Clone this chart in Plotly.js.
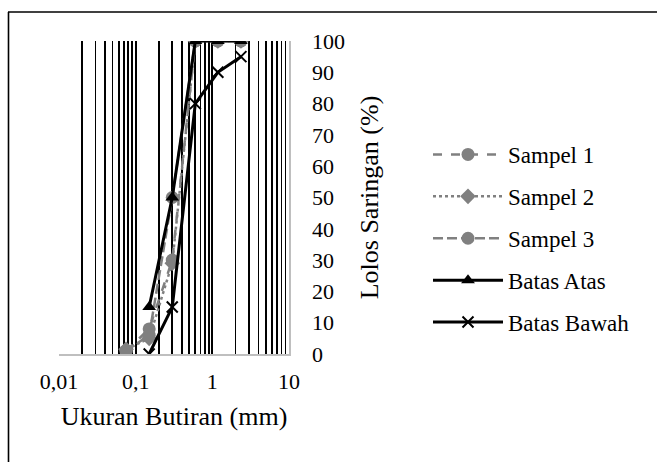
<!DOCTYPE html>
<html>
<head>
<meta charset="utf-8">
<script src="https://cdn.plot.ly/plotly-3.0.1.min.js"></script>
<style>html,body{margin:0;padding:0;background:#fff;}#chart{width:657px;height:462px;}</style>
</head>
<body>
<div id="chart"></div>
<script>
// Sieve sizes (mm)
var sieveSizes = [0.075, 0.15, 0.3, 0.6, 1.18, 2.36];
var limitSizes = [0.15, 0.3, 0.6, 1.18, 2.36];
// Passing percentages
var sampel1 = [1, 8, 30, 100, 100, 100];
var sampel2 = [1.5, 5, 29, 100, 100, 100];
var sampel3 = [1, 6, 50, 100, 100, 100];
var batasAtas = [15, 50, 100, 100, 100];
var batasBawah = [0, 15, 80, 90, 95];
// Axis ticks
var xTickVals = [];
var decades = [0.01, 0.1, 1];
decades.forEach(function(d){ for (var k = 1; k <= 9; k++) xTickVals.push(+(d*k).toPrecision(3)); });
xTickVals.push(10);
var xLabelMap = {0.01: '0,01', 0.1: '0,1', 1: '1', 10: '10'};
var xTickText = xTickVals.map(function(v){ return xLabelMap[v] !== undefined ? xLabelMap[v] : ''; });
var yTickVals = [0,10,20,30,40,50,60,70,80,90,100];

var gray = '#808080';
var FONT = '"Liberation Serif", "Times New Roman", serif';

var traces = [
  {x: sieveSizes, y: sampel1, name: 'Sampel 1', mode: 'lines+markers', legendgroup: 'a',
   line: {color: gray, width: 2.5, dash: '9px,9px'}, marker: {symbol: 'circle', size: 13, color: gray}},
  {x: sieveSizes, y: sampel2, name: 'Sampel 2', mode: 'lines+markers', legendgroup: 'b',
   line: {color: gray, width: 2.5, dash: 'dot'}, marker: {symbol: 'diamond', size: 12, color: gray}},
  {x: sieveSizes, y: sampel3, name: 'Sampel 3', mode: 'lines+markers', legendgroup: 'c',
   line: {color: gray, width: 2.5, dash: '10px,4px'}, marker: {symbol: 'circle', size: 13, color: gray}},
  {x: limitSizes, y: batasAtas, name: 'Batas Atas', mode: 'lines+markers', legendgroup: 'd',
   line: {color: '#000', width: 3}, marker: {symbol: 'triangle-up', size: 12, color: '#000'}},
  {x: limitSizes, y: batasBawah, name: 'Batas Bawah', mode: 'lines+markers', legendgroup: 'e',
   line: {color: '#000', width: 3}, marker: {symbol: 'x-thin', size: 11, color: '#000', line: {color: '#000', width: 2}}}
];

function px2x(px){ return (px - 59) / 230; }
function py2y(py){ return (354 - py) / 313; }

var layout = {
  width: 657, height: 462,
  margin: {l: 59, r: 368, t: 41, b: 108},
  paper_bgcolor: '#fff', plot_bgcolor: '#fff',
  font: {family: FONT, size: 22, color: '#000'},
  showlegend: true,
  xaxis: {
    type: 'log', range: [-2, 1],
    tickmode: 'array', tickvals: xTickVals, ticktext: xTickText,
    showgrid: true, gridcolor: '#000', gridwidth: 1.8,
    showline: true, linecolor: '#bfbfbf', linewidth: 1.5,
    ticks: '', zeroline: false, ticklabelstandoff: 7,
    tickfont: {family: FONT, size: 22, color: '#000'},
    title: {text: 'Ukuran Butiran (mm)', font: {family: FONT, size: 26, color: '#000'}, standoff: 14}
  },
  yaxis: {
    side: 'right', range: [0, 100],
    tickmode: 'array', tickvals: yTickVals,
    showgrid: false, zeroline: false,
    showline: true, linecolor: '#bfbfbf', linewidth: 1.5,
    ticks: '', ticklabelstandoff: 17,
    tickfont: {family: FONT, size: 22, color: '#000'},
    title: {text: 'Lolos Saringan (%)', font: {family: FONT, size: 26, color: '#000'}, standoff: 16}
  },
  legend: {
    x: px2x(428), xanchor: 'left', y: py2y(133), yanchor: 'top',
    font: {family: FONT, size: 23, color: '#000'},
    bgcolor: 'rgba(0,0,0,0)', borderwidth: 0,
    traceorder: 'grouped', tracegroupgap: 9, itemwidth: 70
  },
  shapes: [
    {type: 'line', xref: 'paper', yref: 'paper', x0: px2x(8), x1: px2x(660), y0: py2y(12), y1: py2y(12), line: {color: '#000', width: 1.6}},
    {type: 'line', xref: 'paper', yref: 'paper', x0: px2x(8.5), x1: px2x(8.5), y0: py2y(12), y1: py2y(465), line: {color: '#000', width: 1.6}}
  ]
};

Plotly.newPlot('chart', traces, layout, {displayModeBar: false, staticPlot: true});
</script>
</body>
</html>
